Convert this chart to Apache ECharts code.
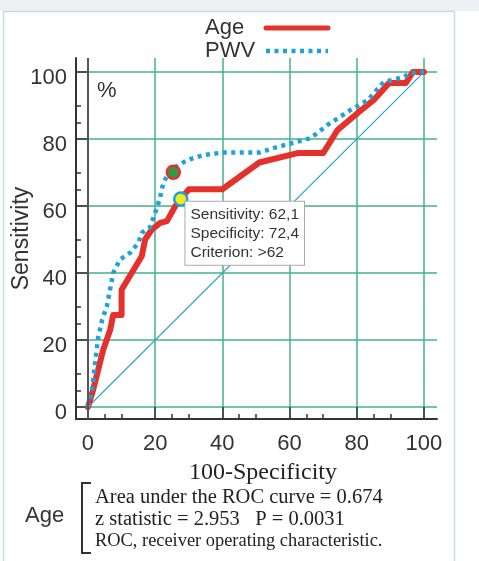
<!DOCTYPE html>
<html>
<head>
<meta charset="utf-8">
<script src="https://cdn.jsdelivr.net/npm/echarts@6/dist/echarts.min.js"></script>
<style>
  html, body { margin: 0; padding: 0; background: #fff; }
  #chart { width: 479px; height: 561px; }
</style>
</head>
<body>
<div id="chart"></div>
<script>
// ROC curves: x = 100-Specificity, y = Sensitivity (%)
const ageX = [0, 1.5, 3, 4.5, 6.6, 7.5, 10, 10, 13, 16, 17, 19, 21.5, 23.5, 26, 27.6, 30, 40, 51, 62.4, 70, 74.3, 80.3, 85, 89.6, 94.6, 96.7, 100]
const ageY = [0, 5, 11, 17, 23, 27.5, 27.5, 35, 40, 45, 50, 53, 55, 55.5, 60, 62.1, 65, 65, 73, 75.8, 75.8, 82.7, 87.8, 91.6, 96.7, 96.7, 100, 100]
const pwvX = [0, 1.2, 2, 3, 4.2, 5.6, 7.5, 9.5, 12.5, 15, 16, 18.5, 20.6, 21.5, 22.4, 24.5, 29.5, 34.3, 40.3, 51.3, 55.2, 66.3, 71.3, 78.2, 83.3, 88, 94, 96, 100]
const pwvY = [0, 5, 12, 20.6, 26, 30, 40, 44, 46, 49, 52, 53.7, 59.7, 62.7, 66.9, 70.7, 73.7, 75.2, 76, 76, 77.3, 80.3, 84.2, 88.7, 91.6, 97, 98.5, 99.7, 100]
const diagX = [0, 100]
const diagY = [0, 100]

// optimal criterion points
const ageCut = [27.6, 62.1]
const pwvCut = [25.4, 70.1]
const cutText = ['Sensitivity: 62,1', 'Specificity: 72,4', 'Criterion: >62']

const tickLabels = ['0', '5', '10', '15', '20', '25', '30', '35', '40', '45', '50',
  '55', '60', '65', '70', '75', '80', '85', '90', '95', '100']
const statLines = ['Area under the ROC curve = 0.674', 'z statistic = 2.953   P = 0.0031',
  'ROC, receiver operating characteristic.']

const SANS = '"Liberation Sans", Arial, sans-serif'
const SERIF = '"Liberation Serif", "Times New Roman", serif'
const GREEN = '#46b08b'
const RED = '#e5302c'
const BLUE = '#1ea2da'
const INK = '#333'

const zip = (xs, ys) => xs.map((x, i) => [x, ys[i]])

const chart = echarts.init(document.getElementById('chart'))

// minor ticks only at 5 and 10 after each major tick, like the original
const minorTick = (i) => i % 4 === 1 || i % 4 === 2
const majorTick = (i) => i % 4 === 0

const tickAxis = (pos, fn, len) => ({
  type: 'category', gridIndex: 1, data: tickLabels, boundaryGap: false,
  position: pos, offset: 12, z: 3,
  axisLine: { show: false },
  axisLabel: { show: false },
  splitLine: { show: false },
  axisTick: { show: true, inside: true, length: len, interval: fn, lineStyle: { color: INK, width: 1.5 } }
})

const option = {
  backgroundColor: '#fff',
  animation: false,
  grid: [
    { left: 76, right: 42, top: 58, bottom: 142, outerBoundsMode: 'none', containLabel: false },
    { left: 88, right: 55, top: 72, bottom: 154, outerBoundsMode: 'none', containLabel: false }
  ],
  legend: {
    data: [
      { name: 'Age', lineStyle: { width: 5 } },
      { name: 'PWV', lineStyle: { width: 4.5 } }
    ],
    orient: 'vertical',
    left: 205, top: 17,
    padding: 0,
    align: 'right',
    itemWidth: 62, itemHeight: 20, itemGap: 1,
    itemStyle: { color: 'transparent', borderWidth: 0 },
    formatter: (name) => '{n|' + name + '}',
    textStyle: {
      rich: { n: { width: 56, align: 'left', fontSize: 22, lineHeight: 20, fontFamily: SANS, color: INK } }
    }
  },
  xAxis: [
    {
      type: 'value', gridIndex: 0, min: -3.57, max: 103.9, splitNumber: 5,
      axisLine: { show: true, onZero: false, lineStyle: { color: INK, width: 2 } },
      axisTick: { show: false },
      axisLabel: {
        margin: 14, fontSize: 22, color: INK, fontFamily: SANS,
        formatter: (v) => (Math.abs(v % 20) < 1e-6 ? String(v) : '')
      },
      splitLine: { show: true, showMinLine: false, showMaxLine: false, lineStyle: { color: GREEN, width: 1.5 } },
      name: '100-Specificity', nameLocation: 'middle', nameGap: 42, nameMoveOverlap: false,
      nameTextStyle: { fontFamily: SERIF, fontSize: 24, color: '#222', padding: [0, 0, 0, 13] }
    },
    tickAxis('bottom', minorTick, 5),
    tickAxis('bottom', majorTick, 12)
  ],
  yAxis: [
    {
      type: 'value', gridIndex: 0, min: -3.58, max: 104.2, splitNumber: 5,
      axisLine: { show: true, onZero: false, lineStyle: { color: INK, width: 2 } },
      axisTick: { show: false },
      axisLabel: {
        margin: 9, fontSize: 22, color: INK, fontFamily: SANS,
        verticalAlign: 'top', lineHeight: 12,
        formatter: (v) => (Math.abs(v % 20) < 1e-6 ? String(v) : '')
      },
      splitLine: { show: true, showMinLine: false, showMaxLine: false, lineStyle: { color: GREEN, width: 1.5 } },
      name: 'Sensitivity', nameLocation: 'middle', nameGap: 43, nameRotate: 90, nameMoveOverlap: false,
      nameTextStyle: { fontFamily: SANS, fontSize: 23, color: INK }
    },
    tickAxis('left', minorTick, 5),
    tickAxis('left', majorTick, 12)
  ],
  series: [
    {
      name: 'diagonal', type: 'line', data: zip(diagX, diagY),
      symbol: 'none', silent: true, z: 2,
      lineStyle: { color: '#2aa6cc', width: 1.2 },
      markLine: {
        silent: true, symbol: 'none', label: { show: false },
        lineStyle: { color: '#555', width: 2, type: 'solid' },
        data: [{ xAxis: 0 }]
      }
    },
    {
      name: 'Age', type: 'line', data: zip(ageX, ageY),
      symbol: 'none', z: 3,
      lineStyle: { color: RED, width: 6, join: 'round', cap: 'round' },
      itemStyle: { color: RED }
    },
    {
      name: 'PWV', type: 'line', data: zip(pwvX, pwvY),
      symbol: 'none', z: 4,
      lineStyle: { color: BLUE, width: 4.5, type: [4, 4.5], cap: 'butt' },
      itemStyle: { color: BLUE }
    },
    {
      name: 'PWV cut', type: 'scatter', data: [pwvCut], z: 6,
      symbolSize: 13,
      itemStyle: { color: '#2e9a4c', borderColor: RED, borderWidth: 2.5, opacity: 1 }
    },
    {
      name: 'Age cut', type: 'scatter', data: [ageCut], z: 6,
      symbolSize: 13,
      itemStyle: { color: '#f2ec1f', borderColor: BLUE, borderWidth: 2.5, opacity: 1 },
      label: {
        show: true, position: [12.5, 10.5], align: 'left', verticalAlign: 'top',
        formatter: cutText.join('\n'),
        fontFamily: SANS, fontSize: 15.5, lineHeight: 19, color: INK,
        backgroundColor: '#fff', borderColor: '#aaa', borderWidth: 1,
        padding: [3, 5, 3, 5]
      }
    }
  ],
  graphic: [
    { type: 'rect', z: -10, silent: true, shape: { x: 0, y: 0, width: 479, height: 11 }, style: { fill: '#eef0f4' } },
    { type: 'rect', z: -9, silent: true, shape: { x: 3.5, y: 11.5, width: 451, height: 560 }, style: { fill: 'none', stroke: '#bfe2da', lineWidth: 1.5 } },
    { type: 'text', left: 97, top: 80, style: { text: '%', font: '22px ' + SANS, fill: INK } },
    { type: 'text', left: 25, top: 505, style: { text: 'Age', font: '22px ' + SANS, fill: INK } },
    { type: 'polyline', silent: true, shape: { points: [[91, 483], [82, 483], [82, 553], [91, 553]] }, style: { stroke: INK, lineWidth: 2, fill: 'none' } },
    { type: 'text', left: 95, top: 487, style: { text: statLines[0], font: '20.5px ' + SERIF, fill: '#222' } },
    { type: 'text', left: 95, top: 509, style: { text: statLines[1], font: '20.5px ' + SERIF, fill: '#222' } },
    { type: 'text', left: 95, top: 532, style: { text: statLines[2], font: '18.4px ' + SERIF, fill: '#222' } }
  ]
}

chart.setOption(option)
</script>
</body>
</html>
